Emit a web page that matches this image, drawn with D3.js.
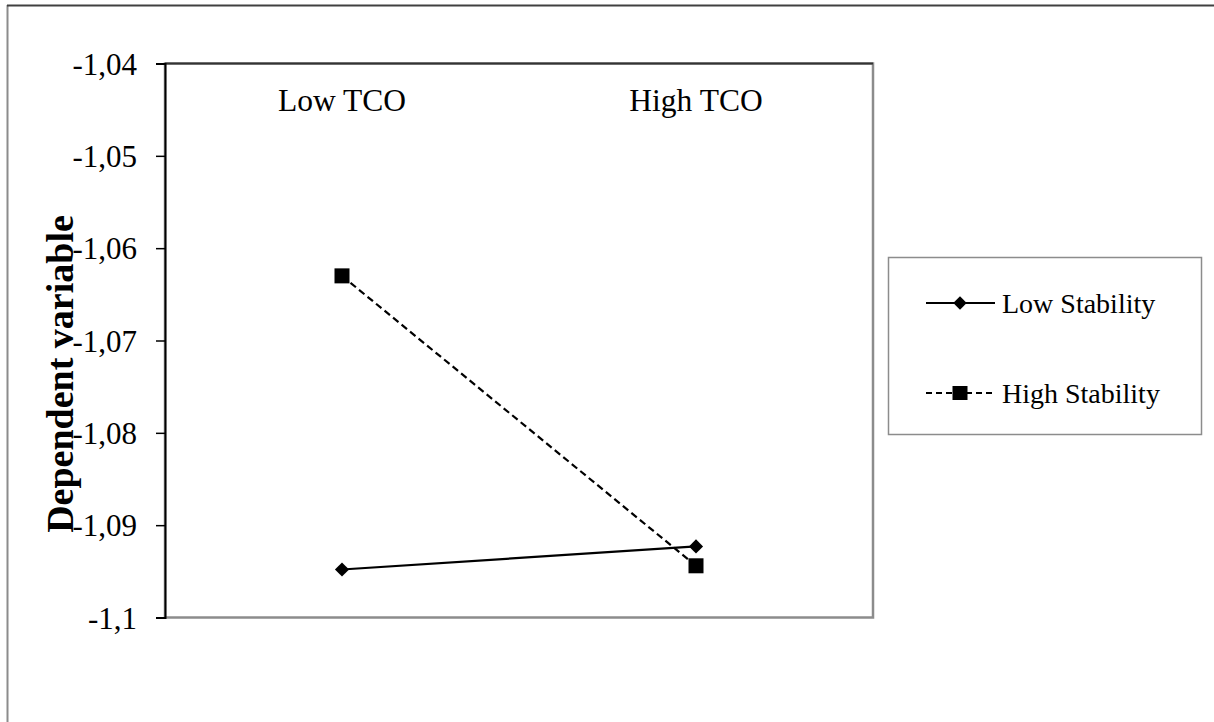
<!DOCTYPE html>
<html>
<head>
<meta charset="utf-8">
<script src="https://cdn.jsdelivr.net/npm/d3@7"></script>
<style>
  html, body { margin: 0; padding: 0; background: #fff; }
  svg { display: block; }
  text { font-family: "Liberation Serif", "Times New Roman", serif; fill: #000; }
</style>
</head>
<body>
<svg id="chart" width="1214" height="722"></svg>
<script>
const categories = ["Low TCO", "High TCO"];
const seriesNames = ["Low Stability", "High Stability"];
const lowStability = [-1.0948, -1.0923];
const highStability = [-1.0630, -1.0944];
const yTicks = [-1.04, -1.05, -1.06, -1.07, -1.08, -1.09, -1.1];
const yTickLabels = ["-1,04", "-1,05", "-1,06", "-1,07", "-1,08", "-1,09", "-1,1"];
const yTitle = "Dependent variable";

const svg = d3.select("#chart");

// outer chart border (only left and top visible)
svg.append("line").attr("x1", 7.5).attr("x2", 7.5).attr("y1", 5).attr("y2", 722)
  .attr("stroke", "#8c8c8c").attr("stroke-width", 2);
svg.append("line").attr("x1", 7).attr("x2", 1214).attr("y1", 5.5).attr("y2", 5.5)
  .attr("stroke", "#404040").attr("stroke-width", 2);

const plot = { left: 165, top: 63.5, right: 873, bottom: 617.5 };

const x = d3.scaleBand().domain(categories).range([plot.left, plot.right]).padding(0);
const y = d3.scaleLinear().domain([-1.1, -1.04]).range([plot.bottom, plot.top]);

// plot area border (gray right/bottom)
svg.append("rect").attr("x", plot.left).attr("y", plot.top)
  .attr("width", plot.right - plot.left).attr("height", plot.bottom - plot.top)
  .attr("fill", "none").attr("stroke", "#8c8c8c").attr("stroke-width", 2.5);

// top category axis line
svg.append("line").attr("x1", plot.left).attr("x2", plot.right)
  .attr("y1", plot.top).attr("y2", plot.top).attr("stroke", "#333").attr("stroke-width", 2);

// Y axis
const yAxis = d3.axisLeft(y).tickValues(yTicks)
  .tickFormat((d, i) => yTickLabels[i]).tickSize(9).tickPadding(19);
const gy = svg.append("g").attr("transform", `translate(${plot.left},0)`).call(yAxis);
gy.select(".domain").attr("stroke", "#000").attr("stroke-width", 2);
gy.selectAll(".tick line").attr("stroke", "#000").attr("stroke-width", 1.5);
gy.selectAll(".tick text").style("font-family", '"Liberation Serif", serif')
  .style("font-size", "31px").attr("fill", "#000").attr("dy", "0.34em");

// category labels at top
svg.append("g").selectAll("text").data(categories).join("text")
  .attr("x", d => x(d) + x.bandwidth() / 2)
  .attr("y", 111)
  .attr("text-anchor", "middle")
  .style("font-size", "31.5px")
  .text(d => d);

// Y title
svg.append("text")
  .attr("transform", `translate(73,374) rotate(-90)`)
  .attr("text-anchor", "middle")
  .style("font-size", "38px").style("font-weight", "bold")
  .text(yTitle);

const cx = d => x(d) + x.bandwidth() / 2;
const line = d3.line().x((d, i) => cx(categories[i])).y(d => y(d));

// series lines
svg.append("path").datum(lowStability).attr("d", line)
  .attr("fill", "none").attr("stroke", "#000").attr("stroke-width", 2.2);
svg.append("path").datum(highStability).attr("d", line)
  .attr("fill", "none").attr("stroke", "#000").attr("stroke-width", 2.2)
  .attr("stroke-dasharray", "7,4");

svg.append("g").selectAll("path").data(lowStability).join("path")
  .attr("d", d3.symbol().type(d3.symbolSquare).size(100))
  .attr("transform", (d, i) => `translate(${cx(categories[i])},${y(d)}) rotate(45)`)
  .attr("fill", "#000");
svg.append("g").selectAll("rect").data(highStability).join("rect")
  .attr("x", (d, i) => cx(categories[i]) - 7.5).attr("y", d => y(d) - 7.5)
  .attr("width", 15).attr("height", 15).attr("fill", "#000");

// legend
const lg = svg.append("g");
lg.append("rect").attr("x", 888.5).attr("y", 257.5).attr("width", 313).attr("height", 177)
  .attr("fill", "#fff").attr("stroke", "#8c8c8c").attr("stroke-width", 1.5);
const rows = [
  { name: seriesNames[0], y: 303, dash: null, marker: "diamond" },
  { name: seriesNames[1], y: 393, dash: "6,4", marker: "square" }
];
rows.forEach(r => {
  lg.append("line").attr("x1", 926).attr("x2", 995).attr("y1", r.y).attr("y2", r.y)
    .attr("stroke", "#000").attr("stroke-width", 2.2)
    .attr("stroke-dasharray", r.dash);
  if (r.marker === "diamond") {
    lg.append("path").attr("d", d3.symbol().type(d3.symbolSquare).size(90))
      .attr("transform", `translate(960,${r.y}) rotate(45)`).attr("fill", "#000");
  } else {
    lg.append("rect").attr("x", 952.5).attr("y", r.y - 7).attr("width", 15).attr("height", 14).attr("fill", "#000");
  }
  lg.append("text").attr("x", 1002).attr("y", r.y).attr("dy", "0.34em")
    .style("font-size", "28px").text(r.name);
});
</script>
</body>
</html>
